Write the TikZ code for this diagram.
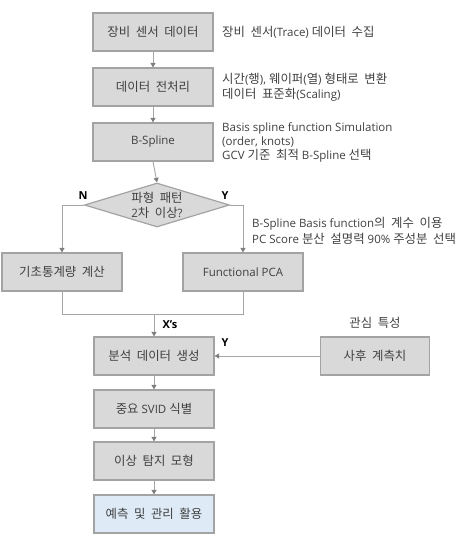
\documentclass[tikz,border=0pt]{standalone}
\usepackage{fontspec}
\setmainfont{Open Sans}
\newfontfamily\kr[WordSpace=2.0,Scale=1.08]{Noto Sans CJK KR}
\newcommand{\K}[1]{{\kr #1}}
\usetikzlibrary{shapes.geometric,arrows.meta}
\definecolor{boxfill}{HTML}{D9D9D9}
\definecolor{boxline}{HTML}{A3A3A3}
\definecolor{lineclr}{HTML}{A6A6A6}
\definecolor{tipclr}{HTML}{7F7F7F}
\definecolor{txt}{HTML}{404040}
\definecolor{bluefill}{HTML}{DEEBF7}
\tikzset{
  stepbox/.style={draw=boxline, line width=1.2pt, fill=boxfill, minimum width=120pt, minimum height=38pt, inner sep=0pt, text=txt, font=\fontsize{11.5}{13}\selectfont},
  conn/.style={draw=lineclr, line width=0.9pt, -{Triangle[width=5pt,length=4.5pt,color=tipclr]}},
  plain/.style={draw=lineclr, line width=0.9pt},
  side/.style={anchor=west, align=left, text=txt, inner sep=0pt, font=\fontsize{11.5}{15}\selectfont},
  lbl/.style={font=\bfseries\fontsize{11}{12}\selectfont, text=black, inner sep=0pt}
}
\begin{document}
\begin{tikzpicture}[x=1pt,y=-1pt]
\useasboundingbox (0,0) rectangle (458,537);
\clip (0,0) rectangle (458,537);
\node[stepbox] (b1) at (153,32) {\K{장비 센서 데이터}};
\node[stepbox] (b2) at (153,87) {\K{데이터 전처리}};
\node[stepbox] (b3) at (153,142) {B-Spline};
\node[diamond, draw=boxline, line width=1.2pt, fill=boxfill, minimum width=145pt, minimum height=44pt, inner sep=0pt] (d) at (157,205) {};
\node[align=center, text=txt, inner sep=0pt, font=\fontsize{11.5}{15}\selectfont] (dt) at (157,205) {\K{파형 패턴}\\2\K{차 이상}?};
\node[stepbox] (bl) at (62,272) {\K{기초통계량 계산}};
\node[stepbox] (br) at (243,272) {Functional PCA};
\coordinate (m) at (154,314);
\node[stepbox] (b4) at (154,356) {\K{분석 데이터 생성}};
\node[stepbox, minimum width=109pt] (bp) at (375,356) {\K{사후 계측치}};
\node[stepbox] (b5) at (154,409) {\K{중요} SVID \K{식별}};
\node[stepbox] (b6) at (154,461) {\K{이상 탐지 모형}};
\node[stepbox, fill=bluefill] (b7) at (154,514) {\K{예측 및 관리 활용}};

\node[side] (s1) at (222,32) {\K{장비 센서}(Trace) \K{데이터 수집}};
\node[side] (s2) at (222,87) {\K{시간}(\K{행}), \K{웨이퍼}(\K{열}) \K{형태로 변환}\\\K{데이터 표준화}(Scaling)};
\node[side, font=\fontsize{11.5}{14}\selectfont] (s3) at (222,142) {Basis spline function Simulation\\(order, knots)\\GCV \K{기준 최적} B-Spline \K{선택}};
\node[side, font=\fontsize{11.5}{16}\selectfont] (s4) at (252,231) {B-Spline Basis function\K{의 계수 이용}\\PC Score \K{분산 설명력} 90\% \K{주성분 선택}};
\node[text=txt, inner sep=0pt, font=\fontsize{11.5}{13}\selectfont] (s5) at (375,323) {\K{관심 특성}};

\node[lbl] (ln) at (83,196) {N};
\node[lbl] (ly) at (225,196) {Y};
\node[lbl] (lx) at (170,325) {X’s};
\node[lbl] (ly2) at (225,343) {Y};

\draw[conn] (b1) -- (b2);
\draw[conn] (b2) -- (b3);
\draw[conn] (b3.south) -- (d.north);
\draw[conn] (d.west) -| (bl.north);
\draw[conn] (d.east) -| (br.north);
\draw[plain] (bl.south) |- (m);
\draw[plain] (br.south) |- (m);
\draw[conn] (m) -- (b4.north);
\draw[conn] (bp.west) -- (b4.east);
\draw[conn] (b4) -- (b5);
\draw[conn] (b5) -- (b6);
\draw[conn] (b6) -- (b7);
\end{tikzpicture}
\end{document}
